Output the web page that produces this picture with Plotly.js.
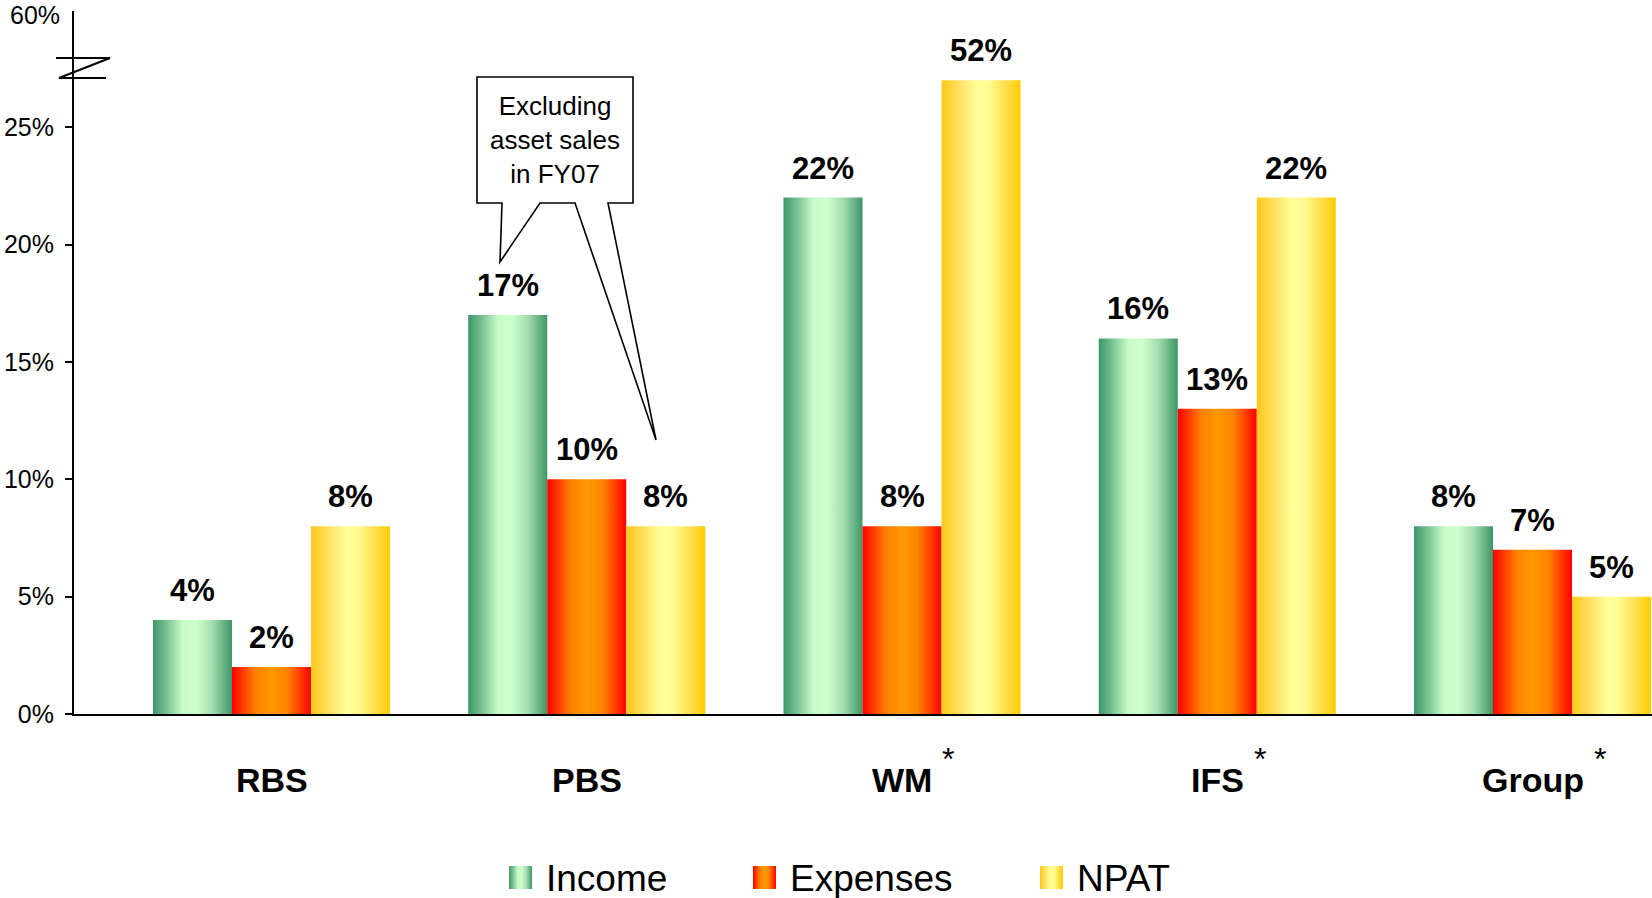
<!DOCTYPE html>
<html>
<head>
<meta charset="utf-8">
<script src="https://cdn.plot.ly/plotly-3.0.1.min.js"></script>
<style>
  html, body { margin: 0; padding: 0; background: #ffffff; }
  #chart { width: 1652px; height: 898px; }
</style>
</head>
<body>
<div id="chart"></div>
<script>
// ---- data ----
const categories = ['RBS', 'PBS', 'WM', 'IFS', 'Group'];
const footnoted  = [false, false, true, true, true];   // categories marked with *
const seriesNames = ['Income', 'Expenses', 'NPAT'];
const income   = [4, 17, 22, 16, 8];
const expenses = [2, 10, 8, 13, 7];
const npat     = [8, 8, 52, 22, 5];
const yTickValues = [0, 5, 10, 15, 20, 25];
const yTopLabel = 60;
const calloutText = ['Excluding', 'asset sales', 'in FY07'];

// ---- layout constants ----
const W = 1652, H = 898;
const M = { l: 74, r: 0, t: 11, b: 184 };
const PW = W - M.l - M.r, PH = H - M.t - M.b;
const X_RANGE = [-0.6265, 4.379];
const Y_RANGE = [0, 29.95];
const BARGAP = 0.248;
const FONT = '"Liberation Sans", Arial, Helvetica, sans-serif';

// broken value axis: everything above 25% is compressed
const AXIS_BREAK = 25;
const BREAK_SCALE = 2 / 27;
function toAxis(v) {
  return v <= AXIS_BREAK ? v : AXIS_BREAK + (v - AXIS_BREAK) * BREAK_SCALE;
}

// pixel helpers for decorations placed in paper coordinates
const px = x => (x - M.l) / PW;
const py = y => 1 - (y - M.t) / PH;
function pathFrom(points, close) {
  return points.map((p, i) => (i ? 'L' : 'M') + px(p[0]).toFixed(5) + ',' + py(p[1]).toFixed(5)).join(' ') + (close ? ' Z' : '');
}

// horizontal "cylinder" gradients for the three series
const gradients = [
  { id: 'grad-income', stops: [[0, '#3d9668'], [0.18, '#7cc495'], [0.38, '#c8fcc8'], [0.55, '#ccffcc'], [0.75, '#a6deb0'], [1, '#3d9668']] },
  { id: 'grad-expenses', stops: [[0, '#ff0000'], [0.3, '#ff8000'], [0.5, '#ff9900'], [0.7, '#ff8400'], [1, '#ff0000']] },
  { id: 'grad-npat', stops: [[0, '#ffc81a'], [0.25, '#ffe468'], [0.45, '#ffff99'], [0.6, '#fffb90'], [0.8, '#ffe050'], [1, '#ffcc00']] }
];
const baseColors = ['#7cc495', '#ff8000', '#ffe468'];
const seriesValues = [income, expenses, npat];

// ---- traces ----
const traces = seriesValues.map((vals, j) => ({
  type: 'bar',
  name: seriesNames[j],
  x: categories,
  y: vals.map(toAxis),
  marker: { color: baseColors[j], line: { width: 0 } },
  hoverinfo: 'skip',
  showlegend: false
}));

// ---- annotations ----
const annotations = [];
const barW = (1 - BARGAP) / 3;

// value labels above bars
seriesValues.forEach((vals, j) => {
  vals.forEach((v, i) => {
    annotations.push({
      xref: 'x', yref: 'y',
      x: i + (j - 1) * barW, y: toAxis(v),
      text: v + '%',
      showarrow: false,
      xanchor: 'center', yanchor: 'bottom', yshift: 10,
      font: { family: FONT, size: 31, color: '#000000', weight: 'bold' }
    });
  });
});

// category labels with footnote asterisks
const measureCtx = document.createElement('canvas').getContext('2d');
measureCtx.font = 'bold 34px "Liberation Sans"';
categories.forEach((c, i) => {
  annotations.push({
    xref: 'x', yref: 'paper', x: i, y: py(780),
    text: c, showarrow: false, xanchor: 'center', yanchor: 'middle',
    font: { family: FONT, size: 34, color: '#000000', weight: 'bold' }
  });
  if (footnoted[i]) {
    const w = measureCtx.measureText(c).width;
    annotations.push({
      xref: 'x', yref: 'paper', x: i, y: py(759),
      xshift: w / 2 + 8,
      text: '*', showarrow: false, xanchor: 'left', yanchor: 'middle',
      font: { family: FONT, size: 32, color: '#000000' }
    });
  }
});

// top label of the broken axis
annotations.push({
  xref: 'paper', yref: 'paper', x: px(62), y: py(15),
  text: yTopLabel + '%', showarrow: false, xanchor: 'right', yanchor: 'middle',
  font: { family: FONT, size: 25, color: '#000000' }
});

// callout text
annotations.push({
  xref: 'paper', yref: 'paper', x: px(555), y: py(140),
  text: calloutText.join('<br>'), showarrow: false, xanchor: 'center', yanchor: 'middle',
  align: 'center',
  font: { family: FONT, size: 26, color: '#000000' }
});

// legend
const legendItems = [
  { swatch: 509, text: 544 },
  { swatch: 753, text: 788 },
  { swatch: 1040, text: 1075 }
];
const shapes = [];
legendItems.forEach((it, j) => {
  annotations.push({
    xref: 'paper', yref: 'paper', x: px(it.text), y: py(878),
    text: seriesNames[j], showarrow: false, xanchor: 'left', yanchor: 'middle',
    font: { family: FONT, size: 37, color: '#000000' }
  });
});

// legend swatches (shape indices 0..2)
legendItems.forEach((it, j) => {
  shapes.push({
    type: 'rect', xref: 'paper', yref: 'paper',
    x0: px(it.swatch), x1: px(it.swatch + 23), y0: py(866), y1: py(889),
    fillcolor: baseColors[j], line: { width: 0 }
  });
});

// callout balloon
shapes.push({
  type: 'path', xref: 'paper', yref: 'paper',
  path: pathFrom([[477, 77], [633, 77], [633, 203], [608, 203], [656, 440], [575, 203],
                  [540, 203], [500, 262], [502, 203], [477, 203]], true),
  fillcolor: '#ffffff', line: { color: '#000000', width: 1.6 }
});

// axis break mark
shapes.push({
  type: 'path', xref: 'paper', yref: 'paper',
  path: pathFrom([[56, 58], [110, 58], [59, 78], [106, 78]], false),
  line: { color: '#000000', width: 2 }
});

const layout = {
  width: W, height: H,
  margin: M,
  paper_bgcolor: '#ffffff', plot_bgcolor: '#ffffff',
  barmode: 'group', bargap: BARGAP, bargroupgap: 0,
  showlegend: false,
  font: { family: FONT, color: '#000000' },
  xaxis: {
    type: 'category', range: X_RANGE,
    showline: true, linecolor: '#000000', linewidth: 2,
    showgrid: false, zeroline: false, ticks: '', showticklabels: false,
    fixedrange: true
  },
  yaxis: {
    range: Y_RANGE,
    tickvals: yTickValues, ticktext: yTickValues.map(v => v + '%'),
    ticks: 'outside', ticklen: 7, tickwidth: 2, tickcolor: '#000000',
    ticklabelstandoff: 6,
    tickfont: { family: FONT, size: 25, color: '#000000' },
    showline: true, linecolor: '#000000', linewidth: 2,
    showgrid: false, zeroline: false, fixedrange: true
  },
  annotations: annotations,
  shapes: shapes
};

function applyGradients(gd) {
  const svg = gd.querySelector('svg.main-svg');
  if (!svg) return;
  const NS = 'http://www.w3.org/2000/svg';
  let defs = svg.querySelector('defs');
  if (!defs) { defs = document.createElementNS(NS, 'defs'); svg.insertBefore(defs, svg.firstChild); }
  gradients.forEach(g => {
    if (defs.querySelector('#' + g.id)) return;
    const lg = document.createElementNS(NS, 'linearGradient');
    lg.setAttribute('id', g.id);
    lg.setAttribute('x1', '0'); lg.setAttribute('y1', '0');
    lg.setAttribute('x2', '1'); lg.setAttribute('y2', '0');
    g.stops.forEach(s => {
      const st = document.createElementNS(NS, 'stop');
      st.setAttribute('offset', s[0]);
      st.setAttribute('stop-color', s[1]);
      lg.appendChild(st);
    });
    defs.appendChild(lg);
  });
  gd.querySelectorAll('.barlayer .trace').forEach((tr, j) => {
    tr.querySelectorAll('.point path').forEach(p => {
      p.style.fill = 'url(#' + gradients[j].id + ')';
    });
  });
  for (let j = 0; j < 3; j++) {
    const p = gd.querySelector('.shapelayer path[data-index="' + j + '"]');
    if (p) p.style.fill = 'url(#' + gradients[j].id + ')';
  }
}

const gd = document.getElementById('chart');
Plotly.newPlot(gd, traces, layout, { displayModeBar: false, staticPlot: true }).then(() => {
  applyGradients(gd);
  gd.on && gd.on('plotly_afterplot', () => applyGradients(gd));
});
</script>
</body>
</html>
